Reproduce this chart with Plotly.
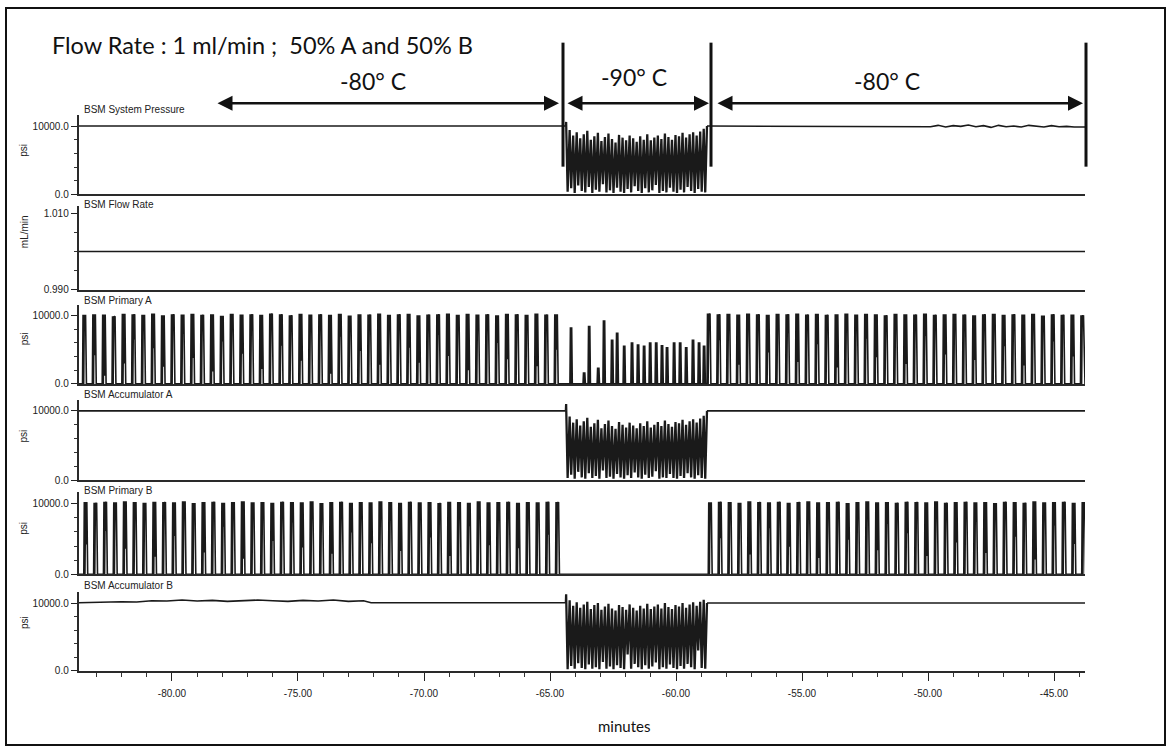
import plotly.graph_objects as go

W, H = 1171, 755

# ---- time base (minutes) ----
T_MIN, T_MAX = -83.71, -43.77
COLD_START, COLD_END = -64.37, -58.77
STROKE_PERIOD = 0.39

X_TICKS = [-80, -75, -70, -65, -60, -55, -50, -45]
X_TICK_TEXT = ["-80.00", "-75.00", "-70.00", "-65.00", "-60.00", "-55.00", "-50.00", "-45.00"]

# ---- BSM System Pressure (psi) ----
SYS_P_BURST_TOP = [10600, 9400, 8600, 9100, 8200, 8800, 9300, 8000, 8500, 9000,
                   7800, 8400, 8900, 8100, 7600, 8700, 8300, 7900, 8600, 8200,
                   7700, 8500, 8000, 8800, 7900, 8300, 8600, 8100, 8900, 8400,
                   8000, 8700, 8500, 9000, 8300, 8800, 9100, 8600, 9200, 9600]
SYS_P_BURST_BOTTOM = [400, 900, 200, 1300, 500, 300, 1100, 200, 700, 400,
                      1500, 300, 600, 200, 1000, 400, 200, 800, 300, 1200,
                      500, 200, 900, 300, 600, 1400, 200, 500, 300, 1000,
                      400, 200, 700, 300, 1100, 500, 200, 800, 400, 300]
SYS_P_POST_T = [-58.77, -50.3, -49.9, -49.6, -49.3, -49.0, -48.7, -48.4, -48.1, -47.8,
                -47.5, -47.2, -46.9, -46.6, -46.3, -46.0, -45.7, -45.4, -45.1, -44.8,
                -44.5, -44.2, -43.77]
SYS_P_POST_V = [10000, 10000, 9900, 10100, 9850, 10050, 9950, 10150, 9900, 10050,
                9800, 10100, 9900, 10000, 9850, 10100, 9950, 9850, 10050, 9900,
                9950, 9850, 9850]

# ---- BSM Flow Rate (mL/min) ----
FLOW_T = [-83.71, -43.77]
FLOW_V = [1.000, 1.000]

# ---- BSM Primary A (psi) ----
PRIMARY_A_PRE_START = -83.55
PRIMARY_A_PRE_PEAK = [10100, 10200, 10150, 9900, 10250, 10200, 10100, 10300, 10050, 10200,
                      10150, 10250, 10100, 10200, 9950, 10250, 10150, 10200, 10100, 10300,
                      10200, 10050, 10250, 10150, 10200, 10100, 10250, 10000, 10200, 10150,
                      10300, 10100, 10200, 10250, 10050, 10150, 10200, 10300, 10100, 10250,
                      10150, 10200, 10050, 10250, 10200, 10100, 10300, 10150, 10200]
PRIMARY_A_PRE_SHOULDER = [9400, 4200, 1200, 9800, 3000, 6500, 9700, 5200, 2500, 9600,
                          7300, 3800, 9900, 1800, 6200, 9500, 4400, 8800, 2200, 9700,
                          5600, 9300, 3400, 7700, 9800, 1500, 6900, 9400, 4800, 9900,
                          2800, 8600, 9600, 5300, 3100, 9700, 7200, 4100, 9500, 2000,
                          8400, 9800, 6000, 3600, 9300, 7800, 2600, 9600, 5000]
PRIMARY_A_COLD_T = [-64.21, -63.69, -63.49, -63.13, -62.90, -62.58, -62.38, -62.10, -61.79, -61.55,
                    -61.31, -61.07, -60.83, -60.60, -60.40, -60.12, -59.88, -59.64, -59.37, -59.13,
                    -58.93]
PRIMARY_A_COLD_V = [8300, 1700, 8500, 2400, 9300, 6500, 7500, 5600, 6100, 5800,
                    5600, 6100, 6100, 5700, 5400, 6100, 6100, 5400, 6500, 6100,
                    5600]
PRIMARY_A_POST_START = -58.77
PRIMARY_A_POST_PEAK = [10300, 10200, 10250, 10150, 10300, 10200, 10100, 10250, 10200, 10300,
                       10150, 10250, 10100, 10200, 10300, 10150, 10250, 10200, 10050, 10250,
                       10200, 10150, 10300, 10100, 10200, 10250, 10150, 10050, 10200, 10250,
                       10100, 10200, 10150, 10250, 10000, 10200, 10100, 10150, 10050]
PRIMARY_A_POST_SHOULDER = [9800, 6400, 9500, 2800, 8900, 9700, 4600, 9300, 7400, 3200,
                           9600, 5800, 9900, 2400, 8700, 9400, 6600, 3900, 9700, 8100,
                           2900, 9500, 7000, 9800, 4300, 8800, 9600, 3500, 7900, 9300,
                           5500, 9700, 2700, 8500, 9400, 6200, 9800, 4000, 9100]

# ---- BSM Accumulator A (psi) ----
ACC_A_BURST_TOP = [11000, 9200, 8300, 8800, 7900, 8500, 9000, 7700, 8200, 8700,
                   7500, 8100, 8600, 7800, 7400, 8400, 8000, 7600, 8300, 7900,
                   7500, 8200, 7800, 8500, 7600, 8000, 8400, 7800, 8600, 8100,
                   7700, 8400, 8200, 8700, 8000, 8500, 8800, 8300, 8900, 9300]
ACC_A_BURST_BOTTOM = [300, 800, 200, 1200, 400, 200, 1000, 300, 600, 200,
                      1400, 300, 500, 200, 900, 400, 200, 700, 300, 1100,
                      400, 200, 800, 300, 500, 1300, 200, 400, 300, 900,
                      300, 200, 600, 300, 1000, 400, 200, 700, 300, 200]

# ---- BSM Primary B (psi) ----
PRIMARY_B_PRE_START = -83.50
PRIMARY_B_PRE_PEAK = [10200, 10100, 10250, 10150, 10300, 10200, 10100, 10250, 10200, 10150,
                      10300, 10050, 10200, 10250, 10100, 10200, 10300, 10150, 10200, 10100,
                      10250, 10200, 10150, 10300, 10050, 10200, 10250, 10100, 10200, 10150,
                      10300, 10200, 10100, 10250, 10150, 10200, 10050, 10250, 10200, 10100,
                      10300, 10150, 10200, 10250, 10100, 10200, 10150, 10250, 10200]
PRIMARY_B_PRE_SHOULDER = [4200, 9600, 6100, 9800, 3600, 9400, 7800, 2500, 9700, 5400,
                          9300, 8200, 3100, 9800, 6700, 9500, 2200, 8900, 9600, 4700,
                          9800, 7300, 3800, 9400, 8600, 2900, 9700, 5900, 9500, 4400,
                          9800, 7600, 3300, 9300, 8800, 5200, 9700, 2600, 9400, 6800,
                          9800, 4100, 9500, 7900, 3700, 9600, 8300, 5600, 9700]
PRIMARY_B_POST_START = -58.72
PRIMARY_B_POST_PEAK = [10150, 10250, 10200, 10100, 10300, 10200, 10150, 10250, 10100, 10200,
                       10300, 10150, 10200, 10250, 10050, 10200, 10300, 10150, 10200, 10100,
                       10250, 10200, 10150, 10300, 10100, 10200, 10250, 10150, 10200, 10050,
                       10250, 10200, 10100, 10300, 10150, 10200, 10250, 10100, 10200]
PRIMARY_B_POST_SHOULDER = [9700, 5100, 9400, 8300, 2800, 9800, 6500, 9500, 3900, 9700,
                           7700, 2300, 9600, 8800, 4900, 9300, 9800, 3400, 7100, 9500,
                           5800, 9700, 2600, 8600, 9400, 4500, 9800, 7400, 3000, 9600,
                           8200, 5300, 9700, 2100, 9400, 6900, 9800, 4300, 9500]

# ---- BSM Accumulator B (psi) ----
ACC_B_PRE_T = [-83.71, -83.2, -82.6, -82.0, -81.4, -80.8, -80.2, -79.6, -79.0, -78.4,
               -77.8, -77.2, -76.6, -76.0, -75.4, -74.8, -74.2, -73.6, -73.0, -72.4,
               -72.1, -64.37]
ACC_B_PRE_V = [10050, 10100, 10050, 10200, 10150, 10350, 10300, 10450, 10300, 10400,
               10250, 10300, 10450, 10350, 10250, 10400, 10300, 10450, 10250, 10350,
               10050, 10050]
ACC_B_BURST_TOP = [11300, 10400, 9600, 10100, 9300, 9800, 10200, 9100, 9700, 10000,
                   9000, 9500, 9900, 9200, 8900, 9700, 9400, 9000, 9800, 9300,
                   8900, 9600, 9200, 9900, 9100, 9500, 9800, 9200, 10000, 9400,
                   9100, 9700, 9500, 10000, 9300, 9800, 10100, 9600, 10200, 10500]
ACC_B_BURST_BOTTOM = [200, 700, 300, 1100, 400, 200, 900, 300, 500, 200,
                      1300, 300, 600, 200, 800, 400, 200, 2400, 300, 1000,
                      500, 200, 800, 300, 600, 1200, 200, 500, 300, 900,
                      400, 200, 700, 300, 1000, 500, 200, 3000, 400, 300]


def stroke_train(t0, peaks, shoulders):
    """Pump strokes: a cluster of fast full-height excursions ending on the shoulder."""
    xs, ys = [], []
    for i, (pk, sh) in enumerate(zip(peaks, shoulders)):
        t = t0 + i * STROKE_PERIOD
        xs += [t, t + 0.02, t + 0.045, t + 0.07, t + 0.095, t + 0.12, t + 0.155]
        ys += [0, pk, 0, pk, sh, pk, 0]
    return xs, ys


def spikes(times, heights):
    xs, ys = [], []
    for t, h in zip(times, heights):
        xs += [t, t + 0.02, t + 0.045, t + 0.07, t + 0.095]
        ys += [0, h, 0, h, 0]
    return xs, ys


def burst(tops, bottoms, level, t0=COLD_START, t1=COLD_END):
    step = (t1 - t0) / len(tops)
    xs, ys = [t0], [level]
    for i, (a, b) in enumerate(zip(tops, bottoms)):
        t = t0 + i * step
        xs += [t + 0.01, t + step / 2]
        ys += [a, b]
    xs.append(t1)
    ys.append(level)
    return xs, ys


# assemble each channel as (x, y, line width) pieces
FLAT_W, BURST_W = 1.6, 2.3
sys_parts = [([T_MIN, COLD_START], [10000, 10000], FLAT_W),
             burst(SYS_P_BURST_TOP, SYS_P_BURST_BOTTOM, 10000) + (BURST_W,),
             (SYS_P_POST_T, SYS_P_POST_V, FLAT_W)]

flow_parts = [(FLOW_T, FLOW_V, FLAT_W)]

pa_pre = stroke_train(PRIMARY_A_PRE_START, PRIMARY_A_PRE_PEAK, PRIMARY_A_PRE_SHOULDER)
pa_cold = spikes(PRIMARY_A_COLD_T, PRIMARY_A_COLD_V)
pa_post = stroke_train(PRIMARY_A_POST_START, PRIMARY_A_POST_PEAK, PRIMARY_A_POST_SHOULDER)
pa_parts = [([T_MIN] + pa_pre[0] + pa_cold[0] + pa_post[0] + [T_MAX],
             [0] + pa_pre[1] + pa_cold[1] + pa_post[1] + [0], FLAT_W)]

acca_parts = [([T_MIN, COLD_START], [10000, 10000], FLAT_W),
              burst(ACC_A_BURST_TOP, ACC_A_BURST_BOTTOM, 10000) + (BURST_W,),
              ([COLD_END, T_MAX], [10000, 10000], FLAT_W)]

pb_pre = stroke_train(PRIMARY_B_PRE_START, PRIMARY_B_PRE_PEAK, PRIMARY_B_PRE_SHOULDER)
pb_post = stroke_train(PRIMARY_B_POST_START, PRIMARY_B_POST_PEAK, PRIMARY_B_POST_SHOULDER)
pb_parts = [([T_MIN] + pb_pre[0] + pb_post[0] + [T_MAX],
             [0] + pb_pre[1] + pb_post[1] + [0], FLAT_W)]

accb_parts = [(ACC_B_PRE_T, ACC_B_PRE_V, FLAT_W),
              burst(ACC_B_BURST_TOP, ACC_B_BURST_BOTTOM, 10000) + (BURST_W,),
              ([COLD_END, T_MAX], [10000, 10000], FLAT_W)]

channels = [
    # name, unit, pieces, (top px, bottom px), y range, tick values, tick text, minor ticks, label y, unit y
    ("BSM System Pressure", "psi", sys_parts, (116, 196), [0, 11600],
     [0, 10000], ["0.0", "10000.0"], [2000, 4000, 6000, 8000], 110, 152),
    ("BSM Flow Rate", "mL/min", flow_parts, (208, 292), [0.990, 1.0118],
     [0.990, 1.010], ["0.990", "1.010"], [0.995, 1.000, 1.005], 206, 234),
    ("BSM Primary A", "psi", pa_parts, (307, 387), [0, 11600],
     [0, 10000], ["0.0", "10000.0"], [2000, 4000, 6000, 8000], 303, 342),
    ("BSM Accumulator A", "psi", acca_parts, (403, 484), [0, 11600],
     [0, 10000], ["0.0", "10000.0"], [2000, 4000, 6000, 8000], 398, 440),
    ("BSM Primary B", "psi", pb_parts, (496, 579), [0, 11600],
     [0, 10000], ["0.0", "10000.0"], [2000, 4000, 6000, 8000], 494, 533),
    ("BSM Accumulator B", "psi", accb_parts, (597, 676), [0, 11600],
     [0, 10000], ["0.0", "10000.0"], [2000, 4000, 6000, 8000], 590, 628),
]


def fx(px):
    return px / W


def fy(py):
    return 1 - py / H


X_LEFT, X_RIGHT = 78.5, 1085
INK = "#1a1a1a"
SMALL = dict(family="Liberation Sans, Arial, sans-serif", size=10, color="#222")
BIG = dict(family="Lato, Open Sans, sans-serif", size=23.5, color="#111")

fig = go.Figure()
layout = dict(
    width=W, height=H,
    margin=dict(l=0, r=0, t=0, b=0),
    paper_bgcolor="white", plot_bgcolor="white",
    showlegend=False,
)
annotations = []
n = len(channels)
for i, (name, unit, parts, (top, bot), yr, tv, tt, minor, lab_y, unit_y) in enumerate(channels, start=1):
    sfx = "" if i == 1 else str(i)
    for xs, ys, lw in parts:
        fig.add_trace(go.Scatter(x=xs, y=ys, mode="lines", xaxis="x" + sfx, yaxis="y" + sfx,
                                 line=dict(color=INK, width=lw), hoverinfo="skip"))
    last = i == n
    xa = dict(domain=[fx(X_LEFT), fx(X_RIGHT)], range=[T_MIN, T_MAX], anchor="y" + sfx,
              showgrid=False, zeroline=False, showline=True, linewidth=2, linecolor="#2a2a2a",
              fixedrange=True)
    if last:
        xa.update(tickmode="array", tickvals=X_TICKS, ticktext=X_TICK_TEXT, ticks="outside",
                  ticklen=8, tickwidth=1, tickcolor="#222", tickfont=SMALL, ticklabelstandoff=4,
                  minor=dict(tickvals=[v for v in range(-83, -43) if v % 5], ticks="outside",
                             ticklen=4, tickcolor="#333", tickwidth=1))
    else:
        xa.update(showticklabels=False, ticks="")
    ya = dict(domain=[fy(bot), fy(top)], range=yr, anchor="x" + sfx,
              showgrid=False, zeroline=False, showline=True, linewidth=1.5, linecolor="#2a2a2a",
              tickmode="array", tickvals=tv, ticktext=tt, ticks="outside", ticklen=6,
              tickwidth=1, tickcolor="#222", tickfont=SMALL, fixedrange=True,
              minor=dict(tickvals=minor, ticks="outside", ticklen=3, tickcolor="#333", tickwidth=1))
    layout["xaxis" + sfx] = xa
    layout["yaxis" + sfx] = ya
    annotations.append(dict(text=name, x=fx(82), y=fy(lab_y), xref="paper", yref="paper",
                            xanchor="left", yanchor="middle", showarrow=False, font=SMALL))
    annotations.append(dict(text=unit, x=fx(24), y=fy(unit_y), xref="paper", yref="paper",
                            xanchor="center", yanchor="middle", textangle=-90,
                            showarrow=False, font=SMALL))

# header text and temperature zones
annotations.append(dict(text="Flow Rate : 1 ml/min ;  50% A and 50% B", x=fx(50), y=fy(45),
                        xref="paper", yref="paper", xanchor="left", yanchor="middle",
                        showarrow=False, font=BIG))
for txt, cx, cy in [("-80° C", 373, 82), ("-90° C", 634, 78), ("-80° C", 887, 82)]:
    annotations.append(dict(text=txt, x=fx(cx), y=fy(cy), xref="paper", yref="paper",
                            xanchor="center", yanchor="middle", showarrow=False,
                            font=dict(family="Lato, Open Sans, sans-serif", size=23, color="#111")))
for x0, x1 in [(216, 559), (566, 709), (716, 1083)]:
    annotations.append(dict(text="", x=fx(x1), y=fy(104), xref="paper", yref="paper",
                            ax=x0 - x1, ay=0, axref="pixel", ayref="pixel",
                            showarrow=True, arrowside="end+start", arrowhead=2,
                            arrowsize=1.2, arrowwidth=2.5, arrowcolor="#111",
                            standoff=0, startstandoff=0))
annotations.append(dict(text="minutes", x=fx(624), y=fy(732), xref="paper", yref="paper",
                        xanchor="center", yanchor="middle", showarrow=False,
                        font=dict(family="Lato, Open Sans, sans-serif", size=15, color="#111")))
layout["annotations"] = annotations

shapes = [dict(type="rect", xref="paper", yref="paper", x0=fx(6), x1=fx(1165),
               y0=fy(751), y1=fy(8), line=dict(color="#111", width=2))]
for xv in [563, 711, 1086]:
    shapes.append(dict(type="line", xref="paper", yref="paper", x0=fx(xv), x1=fx(xv),
                       y0=fy(168), y1=fy(43), line=dict(color="#111", width=3)))
layout["shapes"] = shapes

fig.update_layout(**layout)
fig.write_html("out.html")
